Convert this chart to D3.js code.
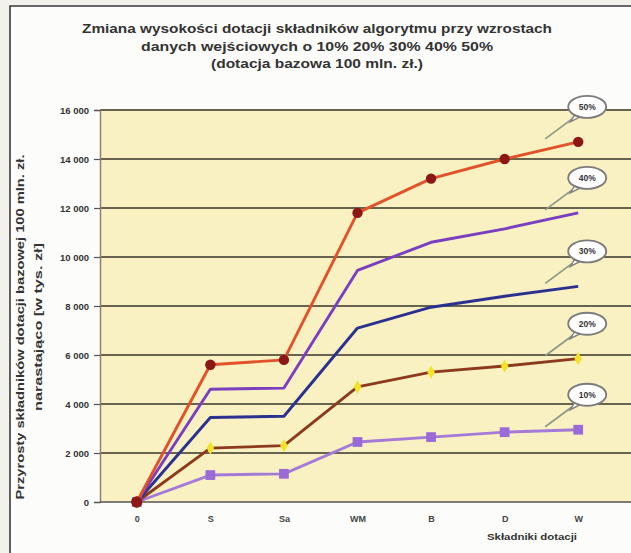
<!DOCTYPE html>
<html>
<head>
<meta charset="utf-8">
<script src="https://cdn.jsdelivr.net/npm/d3@7"></script>
<style>
  html, body { margin: 0; padding: 0; background: #f3f1ec; }
  svg { display: block; }
  text { font-family: "Liberation Sans", Arial, sans-serif; font-weight: bold; }
</style>
</head>
<body>
<svg id="chart" width="631" height="553"></svg>
<script>
// Components of the subsidy (x axis)
const categories = ["0", "S", "Sa", "WM", "B", "D", "W"];

// Cumulative increments, thousands of zł, one array per input growth
const values50 = [0, 5600, 5800, 11800, 13200, 14000, 14700];
const values40 = [0, 4600, 4650, 9450, 10600, 11150, 11800];
const values30 = [0, 3450, 3500, 7100, 7950, 8400, 8800];
const values20 = [0, 2200, 2300, 4700, 5300, 5550, 5850];
const values10 = [0, 1100, 1150, 2450, 2650, 2850, 2950];

const seriesNames = ["50%", "40%", "30%", "20%", "10%"];
const yTicks = [0, 2000, 4000, 6000, 8000, 10000, 12000, 14000, 16000];

const titleLines = [
  "Zmiana wysokości dotacji składników algorytmu przy wzrostach",
  "danych wejściowych o 10% 20% 30% 40% 50%",
  "(dotacja bazowa 100 mln. zł.)"
];
const yTitleLines = [
  "Przyrosty składników dotacji bazowej 100 mln. zł.",
  "narastająco [w tys. zł]"
];
const xTitle = "Składniki dotacji";

const svg = d3.select("#chart");
const W = 631, H = 553;

// page frame
svg.append("rect").attr("x", 10).attr("y", 6).attr("width", W - 10).attr("height", H - 6)
  .attr("fill", "#fcfcfa");
svg.append("path").attr("d", `M10,${H} V6 H${W}`)
  .attr("fill", "none").attr("stroke", "#3a3a3a").attr("stroke-width", 1.6);

const plot = { left: 100, top: 110, right: 631, bottom: 502 };

const x = d3.scalePoint().domain(categories).range([plot.left, 615]).padding(0.5);
const y = d3.scaleLinear().domain([0, 16000]).range([plot.bottom, plot.top]);

// plot background
svg.append("rect")
  .attr("x", plot.left).attr("y", plot.top)
  .attr("width", plot.right - plot.left).attr("height", plot.bottom - plot.top)
  .attr("fill", "#f9f1c2");

// gridlines
svg.append("g").selectAll("line").data(yTicks.slice(1)).join("line")
  .attr("x1", plot.left).attr("x2", plot.right)
  .attr("y1", d => y(d)).attr("y2", d => y(d))
  .attr("stroke", "#68634f").attr("stroke-width", 2);

// y axis
const yAxis = d3.axisLeft(y).tickValues(yTicks).tickSize(6).tickPadding(5)
  .tickFormat(d => d3.format(",")(d).replace(/,/g, " "));
const gy = svg.append("g").attr("transform", `translate(${plot.left},0)`).call(yAxis);
gy.select(".domain").attr("stroke", "#8a846e").attr("stroke-width", 1.5);
gy.selectAll(".tick line").attr("stroke", "#555").attr("stroke-width", 1.2);
gy.selectAll(".tick text").attr("fill", "#333").attr("font-size", 9.5)
  .attr("font-weight", "bold").attr("font-family", "Liberation Sans, Arial, sans-serif");

// x axis
const xAxis = d3.axisBottom(x).tickSize(0).tickPadding(14);
const gx = svg.append("g").attr("transform", `translate(0,${plot.bottom})`).call(xAxis);
gx.select(".domain").attr("stroke", "#555").attr("stroke-width", 1.5)
  .attr("d", `M${plot.left},0H${plot.right}`);
gx.selectAll(".tick text").attr("fill", "#444").attr("font-size", 9)
  .attr("font-weight", "bold").attr("font-family", "Liberation Sans, Arial, sans-serif");

// titles
const titleY = [33, 51, 68];
const titleLen = [470, 352, 212];
svg.append("g").selectAll("text").data(titleLines).join("text")
  .attr("x", 317).attr("y", (d, i) => titleY[i])
  .attr("text-anchor", "middle").attr("font-size", 12).attr("fill", "#333")
  .attr("textLength", (d, i) => titleLen[i]).attr("lengthAdjust", "spacingAndGlyphs")
  .text(d => d);

const yTitleX = [24, 42];
const yTitleLen = [345, 168];
svg.append("g").selectAll("text").data(yTitleLines).join("text")
  .attr("transform", (d, i) => `translate(${yTitleX[i]},327) rotate(-90)`)
  .attr("text-anchor", "middle").attr("font-size", 11).attr("fill", "#333")
  .attr("textLength", (d, i) => yTitleLen[i]).attr("lengthAdjust", "spacingAndGlyphs")
  .text(d => d);

svg.append("text").attr("x", 532).attr("y", 540).attr("text-anchor", "middle")
  .attr("font-size", 9).attr("fill", "#333")
  .attr("textLength", 90).attr("lengthAdjust", "spacingAndGlyphs")
  .text(xTitle);

// series
const series = [
  { name: seriesNames[0], values: values50, line: "#e2522a", marker: "circle", mfill: "#8c1714" },
  { name: seriesNames[1], values: values40, line: "#7a3fc0", marker: null },
  { name: seriesNames[2], values: values30, line: "#2b3190", marker: null },
  { name: seriesNames[3], values: values20, line: "#8b3a1c", marker: "diamond", mfill: "#f3e326" },
  { name: seriesNames[4], values: values10, line: "#a47ad8", marker: "square", mfill: "#9a6ad6" }
];

const line = d3.line().x((d, i) => x(categories[i])).y(d => y(d));

// draw from the lowest series upward so the top line sits over the rest
const order = series.slice().reverse();
const gLines = svg.append("g");
order.forEach(s => {
  gLines.append("path").datum(s.values)
    .attr("fill", "none").attr("stroke", s.line).attr("stroke-width", 2.9)
    .attr("stroke-linejoin", "round").attr("d", line);
});
order.forEach(s => {
  if (!s.marker) return;
  const sym = s.marker === "circle" ? d3.symbolCircle
    : s.marker === "square" ? d3.symbolSquare : d3.symbolDiamond;
  const size = s.marker === "circle" ? 85 : s.marker === "square" ? 95 : 50;
  gLines.append("g").selectAll("path").data(s.values).join("path")
    .attr("transform", (d, i) => `translate(${x(categories[i])},${y(d)})`)
    .attr("d", d3.symbol(sym, size))
    .attr("fill", s.mfill);
});

// the shared origin point
svg.append("path")
  .attr("transform", `translate(${x(categories[0])},${y(0)})`)
  .attr("d", d3.symbol(d3.symbolCircle, 100)).attr("fill", "#8c1714");

// callout bubbles naming each series at its end
const last = categories.length - 1;
const gCall = svg.append("g");
series.forEach(s => {
  const lx = x(categories[last]), ly = y(s.values[last]);
  const cx = lx + 9, cy = ly - 35;
  gCall.append("line")
    .attr("x1", cx - 15).attr("y1", cy + 12)
    .attr("x2", lx - 33).attr("y2", ly - 3)
    .attr("stroke", "#8d9a88").attr("stroke-width", 1.8);
  gCall.append("path")
    .attr("d", `M${cx - 12},${cy + 7} L${cx - 17},${cy + 15} L${cx - 5},${cy + 9} Z`)
    .attr("fill", "#fff").attr("stroke", "#808080").attr("stroke-width", 1.4);
  gCall.append("ellipse").attr("cx", cx).attr("cy", cy).attr("rx", 19).attr("ry", 11)
    .attr("fill", "#fff").attr("stroke", "#7c7c7c").attr("stroke-width", 1.9);
  gCall.append("text").attr("x", cx).attr("y", cy + 3).attr("text-anchor", "middle")
    .attr("font-size", 8.5).attr("fill", "#333").text(s.name);
});
</script>
</body>
</html>
